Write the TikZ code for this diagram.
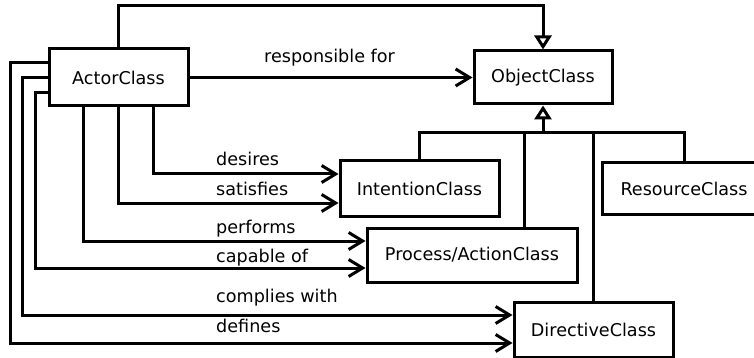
\documentclass[tikz,border=0pt]{standalone}
\usepackage{fontspec}
\setmainfont{DejaVu Sans}
\usetikzlibrary{positioning, arrows.meta}
\tikzset{
	class/.style={draw, rectangle, line width=3pt, inner sep=2pt, fill=white, font=\fontsize{17.6pt}{21pt}\selectfont},
	% relation labels, placed by their base line
	rel/.style={anchor=base west, inner sep=0pt, font=\fontsize{17.6pt}{21pt}\selectfont},
	assoc/.style={line width=3pt, -{Straight Barb[length=14pt, width=17pt]}},
	gen/.style={line width=3pt, -{Triangle[open, length=14pt, width=17pt, fill=white]}},
}
\begin{document}
\begin{tikzpicture}[x=1pt, y=-1pt]
	\useasboundingbox (0,0) rectangle (754,358);
	
	\node (actor) [class, minimum width=139pt, minimum height=57pt] at (118.5,77.5) {ActorClass};
	\node (object) [class, minimum width=138pt, minimum height=53pt] at (543,77.5) {ObjectClass};
	\node (intention) [class, minimum width=159pt, minimum height=55pt] at (419.5,188.5) {IntentionClass};
	\node (resource) [class, minimum width=163pt, minimum height=51pt] at (684,188.5) {ResourceClass};
	\node (process) [class, minimum width=210pt, minimum height=54pt] at (472,255) {Process/ActionClass};
	\node (directive) [class, minimum width=159pt, minimum height=55pt] at (593.5,329.5) {DirectiveClass};
	\coordinate (bar) at (543,133);
	
	\node (lresp) [rel] at (264,63) {responsible for};
	\node (ldes) [rel] at (216,165) {desires};
	\node (lsat) [rel] at (216,195) {satisfies};
	\node (lperf) [rel] at (216,233) {performs};
	\node (lcap) [rel] at (216,262) {capable of};
	\node (lcomp) [rel] at (216,302) {complies with};
	\node (ldef) [rel] at (216,332) {defines};
	
	% generalisation
	\begin{scope}[line width=3pt]
		\draw (intention.north) |- (bar);
		\draw (resource.north) |- (bar);
		\draw ([xshift=52pt]process.north) |- (bar);
		\draw (directive.north) |- (bar);
	\end{scope}
	\draw[gen] (bar) -- (object.south);
	\draw[gen] (actor.north) -- (118.5,6) -| (object.north);
	
	% associations
	\begin{scope}[assoc]
		\draw (actor.east) -- (object.west);
		\draw ([xshift=34.5pt]actor.south) |- ([yshift=14.5pt]intention.west);
		\draw (actor.south) |- ([yshift=-14.5pt]intention.west);
		\draw ([xshift=-35.5pt]actor.south) |- ([yshift=14pt]process.west);
		\draw ([yshift=-15.5pt]actor.west) -- ++(-12,0) |- ([yshift=-13pt]process.west);
		\draw (actor.west) -- ++(-25,0) |- ([yshift=14.5pt]directive.west);
		\draw ([yshift=14.5pt]actor.west) -- ++(-37,0) |- ([yshift=-13.5pt]directive.west);
	\end{scope}
\end{tikzpicture}
\end{document}
